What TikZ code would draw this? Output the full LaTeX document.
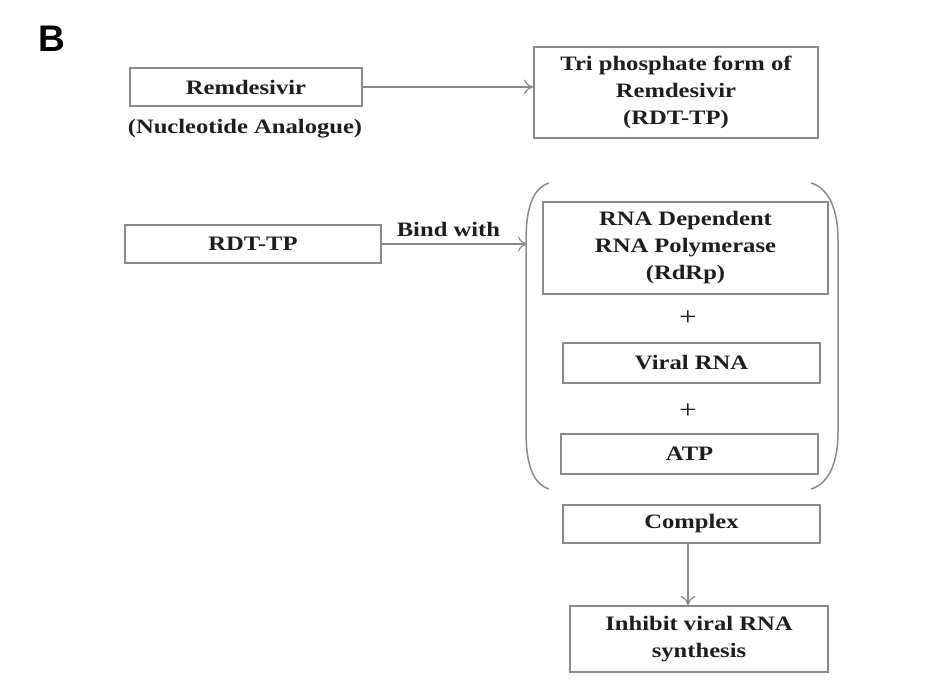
\documentclass[tikz,border=0pt]{standalone}
\usepackage{fontspec}
\setmainfont{Liberation Serif}[FakeStretch=1.2]
\newfontfamily\labelfont{Liberation Sans}
\usetikzlibrary{arrows.meta}
\definecolor{boxline}{HTML}{8A8A8A}
\definecolor{txt}{HTML}{1E1E1E}
\tikzset{
  box/.style={draw=boxline, line width=1.8pt, fill=white, text=txt, align=center,
    inner sep=0pt, font=\fontsize{20.5}{27}\selectfont\bfseries},
  conn/.style={draw=boxline, line width=1.3pt, -{To[length=9pt,width=15pt,line width=1.2pt]}},
  lbl/.style={text=txt, font=\fontsize{20.5}{27}\selectfont\bfseries, inner sep=0pt},
  paren/.style={draw=boxline, line width=1.5pt}
}
\begin{document}
\begin{tikzpicture}[x=1pt,y=-1pt]
\useasboundingbox (0,0) rectangle (950,700);
\node[text=black, font=\labelfont\fontsize{37}{37}\selectfont\bfseries, inner sep=0pt] (B) at (52,39) {B};

\node[box, minimum width=232pt, minimum height=38pt] (remd) at (246,87) {Remdesivir};
\node[lbl] (nuc) at (245,129) {(Nucleotide Analogue)};
\node[box, minimum width=284pt, minimum height=91pt] (tri) at (676,92.5) {Tri phosphate form of\\Remdesivir\\(RDT-TP)};
\draw[conn] (remd.east) -- (tri.west |- remd.east);

\node[box, minimum width=256pt, minimum height=38pt] (rdt) at (253,244) {RDT-TP};
\coordinate (pl) at (527,244);
\draw[conn] (rdt.east) -- node[lbl, above=7pt, xshift=-6pt] (bind) {Bind with} (pl);

\node[box, minimum width=285pt, minimum height=92pt] (rdrp) at (685.5,248) {RNA Dependent\\RNA Polymerase\\(RdRp)};
\node[lbl, font=\fontsize{26}{27}\selectfont] (plus1) at (688,318) {+};
\node[box, minimum width=257pt, minimum height=40pt] (vrna) at (691.5,363) {Viral RNA};
\node[lbl, font=\fontsize{26}{27}\selectfont] (plus2) at (688,411) {+};
\node[box, minimum width=257pt, minimum height=40pt] (atp) at (689.5,454) {ATP};
\node[box, minimum width=257pt, minimum height=38pt] (cplx) at (691.5,524) {Complex};
\node[box, minimum width=258pt, minimum height=66pt] (inh) at (699,639) {Inhibit viral RNA\\synthesis};
\draw[conn] (cplx.south -| 688,0) -- (inh.north -| 688,0);

\draw[paren] (549,183) .. controls (533,188) and (526,208) .. (526,240) -- (526,432) .. controls (526,464) and (533,484) .. (549,489);
\draw[paren] (811,183) .. controls (828,188) and (838,208) .. (838,240) -- (838,432) .. controls (838,464) and (828,484) .. (811,489);
\end{tikzpicture}
\end{document}
